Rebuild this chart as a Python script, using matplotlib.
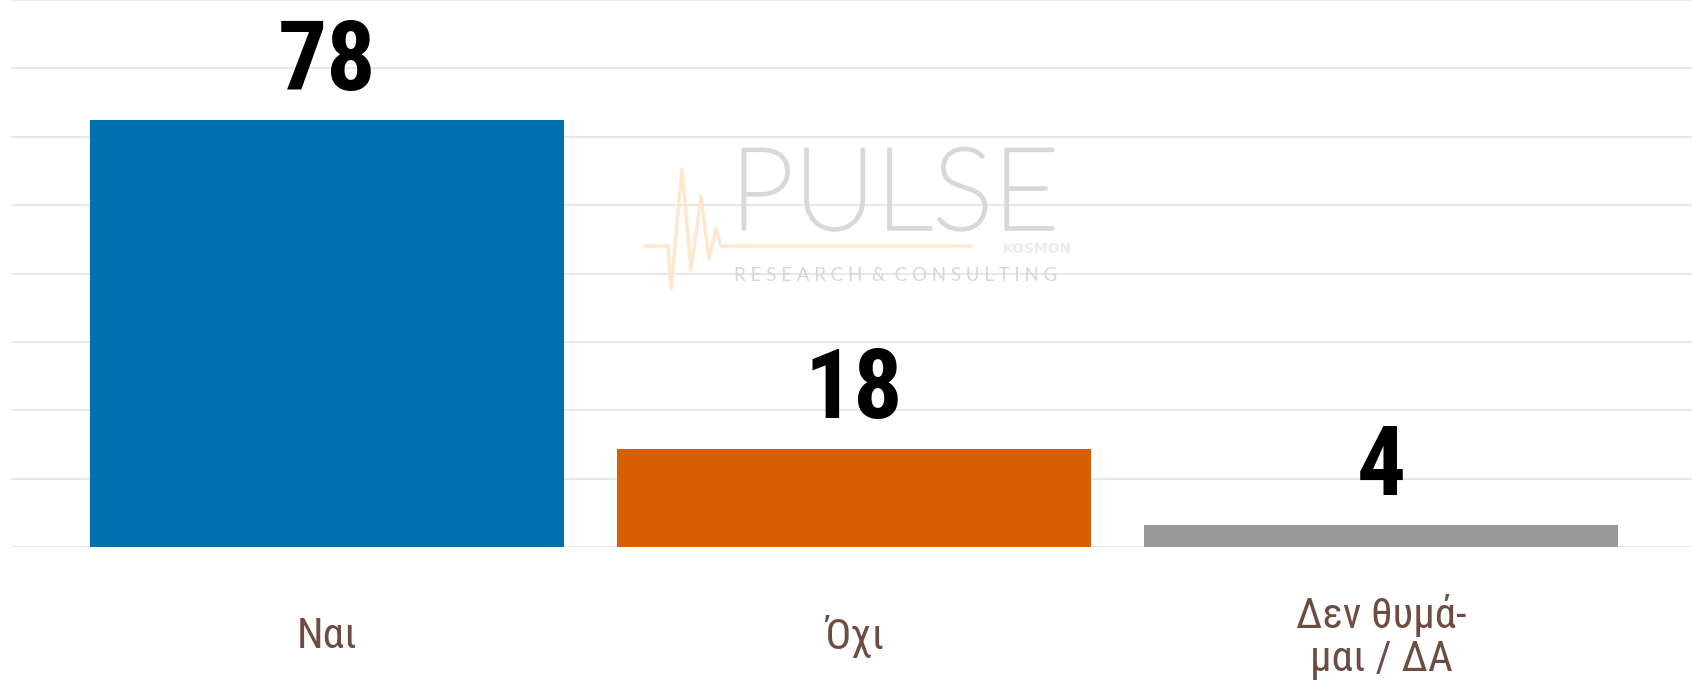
import matplotlib.pyplot as plt
import matplotlib.transforms as mtransforms
import matplotlib.patheffects as pe
from matplotlib import font_manager

categories = ['Ναι', 'Όχι', 'Δεν θυμά-\nμαι / ΔΑ']
values = [78, 18, 4]
colors = ['#0070b0', '#d65f00', '#999999']

names = sorted({f.name for f in font_manager.fontManager.ttflist})
narrow = [n for n in ['Roboto Condensed', 'Liberation Sans Narrow', 'Open Sans Condensed',
                      'DejaVu Sans Condensed'] if n in names]
cond = narrow + ['Roboto', 'DejaVu Sans']

fig = plt.figure(figsize=(16.92, 6.85), dpi=100)
ax = fig.add_axes([11 / 1692, 1 - 547 / 685, 1 - 11 / 1692, 547 / 685])

x = range(len(categories))
bars = ax.bar(x, values, width=0.9, color=colors, zorder=2)

ax.set_ylim(0, 100)
ax.set_xlim(-0.6, 2.59)
ax.set_yticks([i * 12.5 for i in range(9)])
ax.yaxis.grid(True, color='#e8e8e8', linewidth=1.5, zorder=0)
ax.set_axisbelow(True)
for s in ax.spines.values():
    s.set_visible(False)
ax.tick_params(left=False, bottom=False, labelleft=False, labelbottom=False)

# value labels
for b, v in zip(bars, values):
    ax.annotate(str(v), (b.get_x() + b.get_width() / 2, v), xytext=(0, 22),
                textcoords='offset points', ha='center', va='baseline',
                fontsize=70, fontweight='bold', family=cond, fontstretch='condensed',
                color='black')

# category labels
trans = mtransforms.blended_transform_factory(ax.transData, fig.transFigure)
for i, c in enumerate(categories):
    ax.text(i, 1 - 637 / 685, c, transform=trans, ha='center', va='center',
            fontsize=31, family=cond, fontstretch='condensed', color='#6d4c41',
            linespacing=1.05)

# faint watermark
fig.text(730 / 1692, 1 - 229 / 685, 'PULSE', fontsize=82, family='Lato',
         fontweight='light', color='#d8d8d8', va='baseline', ha='left',
         path_effects=[pe.withStroke(linewidth=2.5, foreground='#d8d8d8')])
fig.text(1072 / 1692, 1 - 253 / 685, 'KOSMON', fontsize=10, family='DejaVu Sans',
         fontweight='bold', color='#ececec', va='baseline', ha='right')
fig.text(734 / 1692, 1 - 281 / 685, 'R E S E A R C H  &  C O N S U L T I N G',
         fontsize=13.5, family='Lato', color='#d6d6d6', va='baseline', ha='left')
px = [645, 668, 671, 682, 691, 701, 709, 716, 721, 971]
py = [246, 246, 289, 169, 270, 196, 259, 229, 246, 246]
fig.add_artist(plt.Line2D([p / 1692 for p in px], [1 - p / 685 for p in py],
                          transform=fig.transFigure, color='#fde3c4',
                          linewidth=2.5, alpha=0.8, zorder=1))

fig.savefig('out.png', dpi=100)
